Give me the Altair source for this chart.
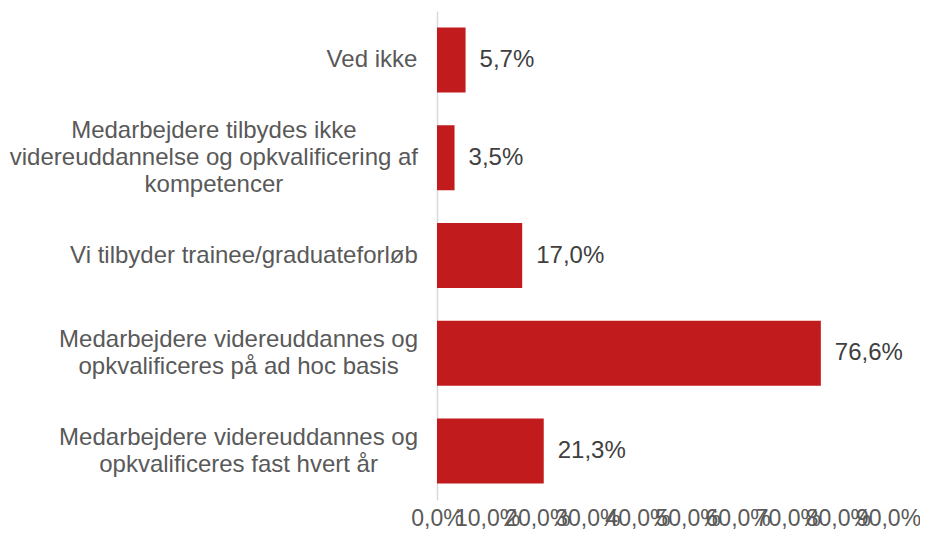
import altair as alt
import pandas as pd

# ---- data ----
categories = [
    "Ved ikke",
    "Medarbejdere tilbydes ikke\nvidereuddannelse og opkvalificering af\nkompetencer",
    "Vi tilbyder trainee/graduateforløb",
    "Medarbejdere videreuddannes og\nopkvalificeres på ad hoc basis",
    "Medarbejdere videreuddannes og\nopkvalificeres fast hvert år",
]
values = [5.7, 3.5, 17.0, 76.6, 21.3]
x_ticks = [0, 10, 20, 30, 40, 50, 60, 70, 80, 90]

# ---- style ----
FONT = "Arial"
FS = 24
LH = 27
RED = "#C11B1E"
PLOT_W, PLOT_H = 451, 489
X_MAX = 90
LABEL_GAP = 19  # px between label block and axis

# Arial / Liberation Sans advance widths (per 1000 em)
AW = {" ": 278, "/": 278, "a": 556, "b": 556, "c": 500, "d": 556, "e": 556,
      "f": 278, "g": 556, "h": 556, "i": 222, "j": 222, "k": 500, "l": 222,
      "m": 833, "n": 556, "o": 556, "p": 556, "r": 333, "s": 500, "t": 278,
      "u": 556, "v": 500, "y": 500, "å": 556, "ø": 611, "M": 833, "V": 667}


def block_width(text):
    return max(sum(AW.get(ch, 556) for ch in line) for line in text.split("\n")) * FS / 1000


px_per_unit = PLOT_W / X_MAX
df = pd.DataFrame({
    "cat": categories,
    "value": values,
    "label": [f"{v:.1f}".replace(".", ",") + "%" for v in values],
    "cx": [-(LABEL_GAP + block_width(c) / 2) / px_per_unit for c in categories],
    "nlines": [c.count("\n") + 1 for c in categories],
})

y_enc = alt.Y("cat:N", sort=categories,
              scale=alt.Scale(paddingInner=0.335, paddingOuter=0.1675),
              axis=alt.Axis(labels=False, ticks=False, title=None, grid=False,
                            domain=True, domainColor="#D9D9D9", domainWidth=1.5))

x_scale = alt.Scale(domain=[0, X_MAX], nice=False)

base = alt.Chart(df)

bars = base.mark_bar(color=RED).encode(
    x=alt.X("value:Q", scale=x_scale,
            axis=alt.Axis(values=x_ticks, title=None, grid=False, ticks=False, domain=False,
                          labelExpr="replace(format(datum.value, '.1f'), '.', ',') + '%'",
                          labelFontSize=23, labelFont=FONT, labelColor="#595959",
                          labelOverlap=False, labelFlush=False, labelPadding=7)),
    y=y_enc,
)

vals = base.mark_text(align="left", baseline="middle", dx=14, fontSize=FS, font=FONT,
                      color="#404040").encode(
    x=alt.X("value:Q", scale=x_scale),
    y=y_enc,
    text="label:N",
)

cat_layers = []
for n in sorted(set(df["nlines"])):
    cat_layers.append(
        base.transform_filter(alt.datum.nlines == n).mark_text(
            align="center", baseline="middle", fontSize=FS, font=FONT,
            color="#595959", lineBreak="\n", lineHeight=LH, dy=-(n - 1) * LH / 2,
        ).encode(
            x=alt.X("cx:Q", scale=x_scale),
            y=y_enc,
            text="cat:N",
        )
    )

chart = alt.layer(bars, vals, *cat_layers).properties(
    width=PLOT_W, height=PLOT_H,
    autosize=alt.AutoSizeParams(type="none"),
    padding={"left": 429, "top": 3, "right": 32, "bottom": 31},
).configure_view(stroke=None)

chart.save("out.html", embed_options={"renderer": "svg", "actions": False})
